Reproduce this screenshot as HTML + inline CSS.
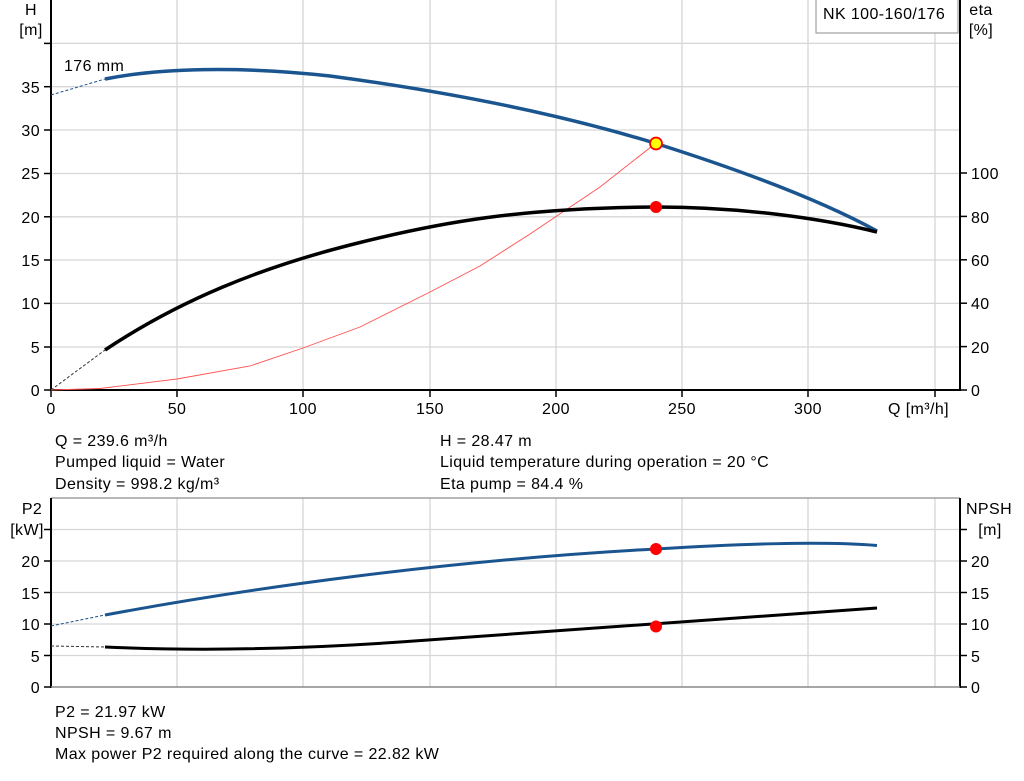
<!DOCTYPE html>
<html><head><meta charset="utf-8"><style>
body{margin:0;background:#fff;}
svg{display:block;font-family:"Liberation Sans",sans-serif;}
text{font-size:16px;fill:#000;letter-spacing:0.4px;}
</style></head><body>
<svg width="1024" height="781" viewBox="0 0 1024 781">
<g stroke="#d6d6d6" stroke-width="1.3">
<line x1="177" y1="0" x2="177" y2="390"/><line x1="303" y1="0" x2="303" y2="390"/><line x1="430" y1="0" x2="430" y2="390"/><line x1="556" y1="0" x2="556" y2="390"/><line x1="682" y1="0" x2="682" y2="390"/><line x1="808" y1="0" x2="808" y2="390"/><line x1="935" y1="0" x2="935" y2="390"/>
<line x1="51" y1="347" x2="960" y2="347"/><line x1="51" y1="303.4" x2="960" y2="303.4"/><line x1="51" y1="260" x2="960" y2="260"/><line x1="51" y1="216.8" x2="960" y2="216.8"/><line x1="51" y1="173.5" x2="960" y2="173.5"/><line x1="51" y1="130" x2="960" y2="130"/><line x1="51" y1="86.7" x2="960" y2="86.7"/><line x1="51" y1="43.4" x2="960" y2="43.4"/>
<line x1="177" y1="498" x2="177" y2="687"/><line x1="303" y1="498" x2="303" y2="687"/><line x1="430" y1="498" x2="430" y2="687"/><line x1="556" y1="498" x2="556" y2="687"/><line x1="682" y1="498" x2="682" y2="687"/><line x1="808" y1="498" x2="808" y2="687"/><line x1="935" y1="498" x2="935" y2="687"/>
<line x1="51" y1="655.5" x2="960" y2="655.5"/><line x1="51" y1="624" x2="960" y2="624"/><line x1="51" y1="592.5" x2="960" y2="592.5"/><line x1="51" y1="561" x2="960" y2="561"/><line x1="51" y1="529.5" x2="960" y2="529.5"/>
</g>
<line x1="51" y1="498" x2="960" y2="498" stroke="#a0a0a0" stroke-width="1.5"/>
<g stroke="#000" stroke-width="2" fill="none">
<line x1="51" y1="0" x2="51" y2="391"/><line x1="960" y1="0" x2="960" y2="391"/><line x1="50" y1="390" x2="961" y2="390"/>
<line x1="51" y1="498" x2="51" y2="688"/><line x1="960" y1="498" x2="960" y2="688"/>
</g>
<line x1="51" y1="687" x2="960" y2="687" stroke="#888" stroke-width="1.5"/>
<g stroke="#000" stroke-width="1.5">
<line x1="44" y1="390" x2="51" y2="390"/><line x1="44" y1="347" x2="51" y2="347"/><line x1="44" y1="303.4" x2="51" y2="303.4"/><line x1="44" y1="260" x2="51" y2="260"/><line x1="44" y1="216.8" x2="51" y2="216.8"/><line x1="44" y1="173.5" x2="51" y2="173.5"/><line x1="44" y1="130" x2="51" y2="130"/><line x1="44" y1="86.7" x2="51" y2="86.7"/><line x1="44" y1="43.4" x2="51" y2="43.4"/>
<line x1="960" y1="390" x2="967" y2="390"/><line x1="960" y1="346.6" x2="967" y2="346.6"/><line x1="960" y1="303.2" x2="967" y2="303.2"/><line x1="960" y1="259.8" x2="967" y2="259.8"/><line x1="960" y1="216.4" x2="967" y2="216.4"/><line x1="960" y1="173" x2="967" y2="173"/>
<line x1="51" y1="390" x2="51" y2="397"/><line x1="177" y1="390" x2="177" y2="397"/><line x1="303" y1="390" x2="303" y2="397"/><line x1="430" y1="390" x2="430" y2="397"/><line x1="556" y1="390" x2="556" y2="397"/><line x1="682" y1="390" x2="682" y2="397"/><line x1="808" y1="390" x2="808" y2="397"/><line x1="935" y1="390" x2="935" y2="397"/>
<line x1="44" y1="687" x2="51" y2="687"/><line x1="44" y1="655.5" x2="51" y2="655.5"/><line x1="44" y1="624" x2="51" y2="624"/><line x1="44" y1="592.5" x2="51" y2="592.5"/><line x1="44" y1="561" x2="51" y2="561"/><line x1="44" y1="529.5" x2="51" y2="529.5"/>
<line x1="960" y1="687" x2="967" y2="687"/><line x1="960" y1="655.5" x2="967" y2="655.5"/><line x1="960" y1="624" x2="967" y2="624"/><line x1="960" y1="592.5" x2="967" y2="592.5"/><line x1="960" y1="561" x2="967" y2="561"/><line x1="960" y1="529.5" x2="967" y2="529.5"/>
</g>
<g text-anchor="end">
<text x="40" y="396">0</text><text x="40" y="353">5</text><text x="40" y="309">10</text><text x="40" y="266">15</text><text x="40" y="223">20</text><text x="40" y="179">25</text><text x="40" y="136">30</text><text x="40" y="93">35</text>
<text x="40" y="693">0</text><text x="40" y="662">5</text><text x="40" y="630">10</text><text x="40" y="599">15</text><text x="40" y="567">20</text>
</g>
<g>
<text x="971" y="396">0</text><text x="971" y="353">20</text><text x="971" y="309">40</text><text x="971" y="266">60</text><text x="971" y="223">80</text><text x="971" y="179">100</text>
<text x="971" y="693">0</text><text x="971" y="662">5</text><text x="971" y="630">10</text><text x="971" y="599">15</text><text x="971" y="567">20</text>
</g>
<g text-anchor="middle">
<text x="51" y="414">0</text><text x="177" y="414">50</text><text x="303" y="414">100</text><text x="430" y="414">150</text><text x="556" y="414">200</text><text x="682" y="414">250</text><text x="808" y="414">300</text>
<text x="31" y="15">H</text><text x="31" y="35">[m]</text>
<text x="981" y="15">eta</text><text x="981" y="35">[%]</text>
<text x="32" y="514">P2</text><text x="27" y="535">[kW]</text>
<text x="989" y="514">NPSH</text><text x="990" y="535">[m]</text>
</g>
<text x="888" y="414">Q [m³/h]</text>
<text x="64" y="71">176 mm</text>
<rect x="816" y="-1" width="142" height="34" fill="#fff" stroke="#a0a0a0" stroke-width="1.2"/>
<text x="823" y="19">NK 100-160/176</text>
<g stroke-dasharray="3,2" stroke-width="1" fill="none">
<path d="M51,95 L105,79" stroke="#1f4e8a"/>
<path d="M51,390 L105,350" stroke="#333"/>
<path d="M51,626 L105,615" stroke="#1f4e8a"/>
<path d="M51,646 L105,647" stroke="#333"/>
</g>
<path d="M51,390 L100,388.5 L177,379 L250,366 L303,348 L360,327 L430,292 L480,266 L530,234 L600,187 L656,143" fill="none" stroke="#ff5050" stroke-width="0.9"/>
<path d="M105,79 C160,68 240,66 330,76 C450,92 560,114 656,143.5 C740,170 820,200 877,231" fill="none" stroke="#1b5590" stroke-width="3.5"/>
<path d="M105,350 C180,300 260,268 350,245 S520,208 656,207 C740,207 820,218 877,232" fill="none" stroke="#000" stroke-width="3.5"/>
<path d="M105,615 C250,588 450,560 656,549 C740,544 820,541 877,545.5" fill="none" stroke="#1b5590" stroke-width="3"/>
<path d="M105,647 C170,650 270,651 400,642 C530,632 700,622 877,608" fill="none" stroke="#000" stroke-width="3"/>
<circle cx="656" cy="143.5" r="6" fill="#ffff00" stroke="#ff0000" stroke-width="1.8"/>
<circle cx="656" cy="207" r="6" fill="#ff0000"/>
<circle cx="656" cy="549" r="6" fill="#ff0000"/>
<circle cx="656" cy="626.5" r="6" fill="#ff0000"/>
<text x="55" y="446">Q = 239.6 m³/h</text>
<text x="55" y="467">Pumped liquid = Water</text>
<text x="55" y="489">Density = 998.2 kg/m³</text>
<text x="440" y="446">H = 28.47 m</text>
<text x="440" y="467">Liquid temperature during operation = 20 °C</text>
<text x="440" y="489">Eta pump = 84.4 %</text>
<text x="55" y="717">P2 = 21.97 kW</text>
<text x="55" y="738">NPSH = 9.67 m</text>
<text x="55" y="759">Max power P2 required along the curve = 22.82 kW</text>
</svg>
</body></html>
